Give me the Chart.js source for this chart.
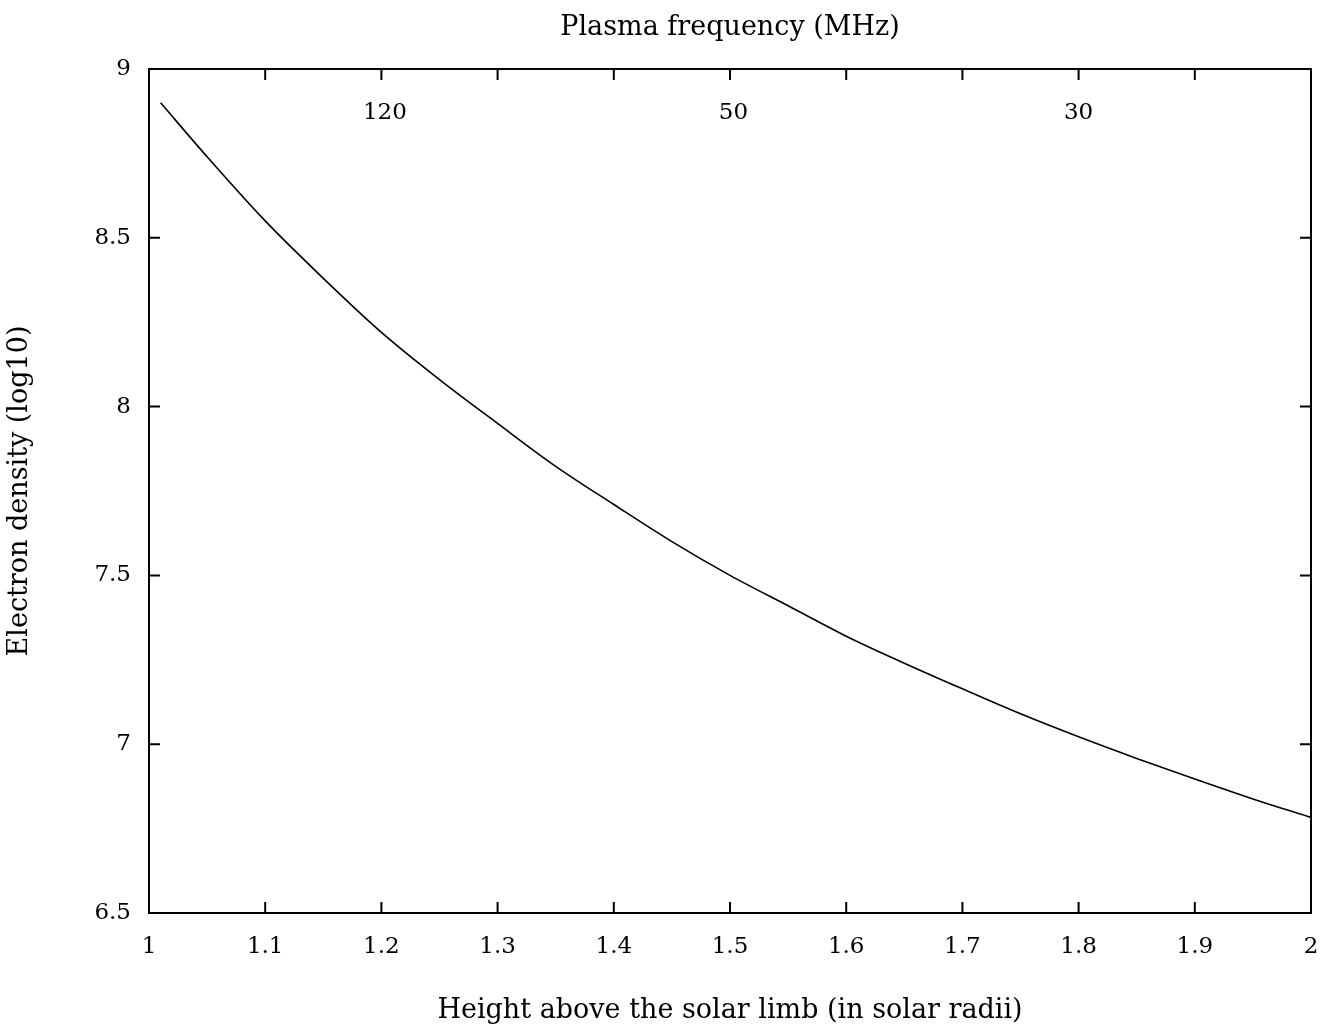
<!DOCTYPE html>
<html>
<head>
<meta charset="utf-8">
<script src="https://cdn.jsdelivr.net/npm/chart.js@4"></script>
<style>
  html, body { margin: 0; padding: 0; background: #fff; }
  #wrap { width: 1323px; height: 1031px; }
</style>
</head>
<body>
<div id="wrap"><canvas id="chart"></canvas></div>
<script>
// height above the solar limb (solar radii)
const heights = [1.01, 1.05, 1.1, 1.15, 1.2, 1.25, 1.3, 1.35, 1.4, 1.45, 1.5,
                 1.55, 1.6, 1.65, 1.7, 1.75, 1.8, 1.85, 1.9, 1.95, 2.0];
// electron density, log10
const density = [8.90, 8.74, 8.55, 8.38, 8.22, 8.08, 7.95, 7.823, 7.71, 7.60, 7.50,
                 7.41, 7.32, 7.24, 7.164, 7.09, 7.022, 6.958, 6.897, 6.838, 6.783];

// plasma frequency labels along the top
const freqLabels = ["120", "50", "30"];
const freqAt = [1.203, 1.503, 1.8];
const freqLabelY = 8.87;

const FONT = "'DejaVu Serif', 'Liberation Serif', serif";

function fixSize(prop, size) {
    return function (scale) {
        scale[prop] = size;
        scale.paddingLeft = 0;
        scale.paddingRight = 0;
        scale.paddingTop = 0;
        scale.paddingBottom = 0;
    };
}

// inward tick marks on all four sides, plus frequency labels
const innerTicks = {
    id: "innerTicks",
    afterDraw(chart) {
        const c = chart.ctx;
        const a = chart.chartArea;
        const xs = chart.scales.x, ys = chart.scales.y;
        c.save();
        c.strokeStyle = "#000";
        c.lineWidth = 2;
        c.beginPath();
        xs.ticks.forEach(t => {
            const px = xs.getPixelForValue(t.value);
            c.moveTo(px, a.bottom); c.lineTo(px, a.bottom - 11);
            c.moveTo(px, a.top); c.lineTo(px, a.top + 11);
        });
        ys.ticks.forEach(t => {
            const py = ys.getPixelForValue(t.value);
            c.moveTo(a.left, py); c.lineTo(a.left + 11, py);
            c.moveTo(a.right, py); c.lineTo(a.right - 11, py);
        });
        c.stroke();

        c.fillStyle = "#000";
        c.font = "23px " + FONT;
        c.textAlign = "center";
        c.textBaseline = "middle";
        freqLabels.forEach((s, i) => {
            c.fillText(s, xs.getPixelForValue(freqAt[i]), ys.getPixelForValue(freqLabelY));
        });
        c.restore();
    }
};

const ctx = document.getElementById("chart").getContext("2d");
const chart = new Chart(ctx, {
    type: "line",
    data: {
        datasets: [{
            data: heights.map((h, i) => ({x: h, y: density[i]})),
            borderColor: "#000",
            borderWidth: 1.6,
            pointRadius: 0,
            cubicInterpolationMode: "monotone",
            fill: false
        }]
    },
    options: {
        responsive: true,
        maintainAspectRatio: false,
        animation: false,
        layout: {padding: 0},
        plugins: {
            legend: {display: false},
            tooltip: {enabled: false}
        },
        scales: {
            x: {
                type: "linear",
                position: "bottom",
                min: 1, max: 2,
                afterFit: fixSize("height", 118),
                grid: {display: false},
                border: {display: true, color: "#000", width: 2},
                ticks: {
                    stepSize: 0.1,
                    padding: 12,
                    color: "#000",
                    font: {family: FONT, size: 23},
                    callback: v => String(Number(v.toFixed(1)))
                },
                title: {
                    display: true,
                    text: "Height above the solar limb (in solar radii)",
                    color: "#000",
                    font: {family: FONT, size: 27},
                    padding: {top: 30}
                }
            },
            x2: {
                type: "linear",
                position: "top",
                min: 1, max: 2,
                afterFit: fixSize("height", 69),
                grid: {display: false},
                border: {display: true, color: "#000", width: 2},
                ticks: {display: false},
                title: {
                    display: true,
                    text: "Plasma frequency (MHz)",
                    color: "#000",
                    font: {family: FONT, size: 27},
                    padding: {top: 12, bottom: 18}
                }
            },
            y: {
                type: "linear",
                position: "left",
                min: 6.5, max: 9,
                afterFit: fixSize("width", 149),
                grid: {display: false},
                border: {display: true, color: "#000", width: 2},
                ticks: {
                    stepSize: 0.5,
                    padding: 10,
                    color: "#000",
                    font: {family: FONT, size: 23},
                    callback: v => String(Number(v.toFixed(1)))
                },
                title: {
                    display: true,
                    text: "Electron density (log10)",
                    color: "#000",
                    font: {family: FONT, size: 27},
                    padding: {bottom: 48}
                }
            },
            y2: {
                type: "linear",
                position: "right",
                min: 6.5, max: 9,
                afterFit: fixSize("width", 12),
                grid: {display: false},
                border: {display: true, color: "#000", width: 2},
                ticks: {display: false}
            }
        }
    },
    plugins: [innerTicks]
});
</script>
</body>
</html>
